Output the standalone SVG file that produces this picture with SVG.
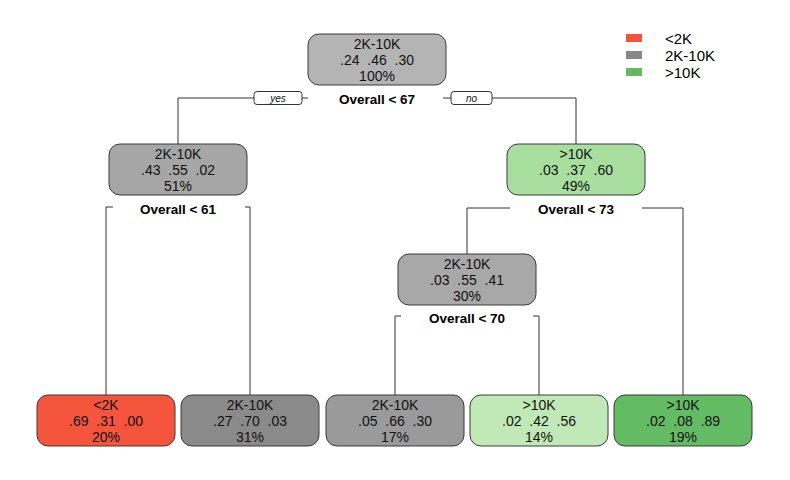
<svg xmlns="http://www.w3.org/2000/svg" width="790" height="480" viewBox="0 0 790 480">
<style>
  .box { stroke: #3a3a3a; stroke-width: 1; }
  .t { font-family: "Liberation Sans", Arial, sans-serif; font-size: 14px; fill: #111; text-anchor: middle; white-space: pre; }
  .split { font-family: "Liberation Sans", Arial, sans-serif; font-size: 13.5px; font-weight: bold; fill: #000; text-anchor: middle; }
  .lbl { font-family: "Liberation Sans", Arial, sans-serif; font-size: 10px; font-style: italic; fill: #111; text-anchor: middle; }
  .conn { fill: none; stroke: #333; stroke-width: 1; }
  .tag { fill: #fff; stroke: #333; stroke-width: 1; }
  .leg { font-family: "Liberation Sans", Arial, sans-serif; font-size: 15px; fill: #000; }
</style>
<rect width="790" height="480" fill="#ffffff"/>
<g id="connectors">
  <path class="conn" d="M254,98 H178 V144"/>
  <path class="conn" d="M302,98 H308"/>
  <path class="conn" d="M443,98 H451"/>
  <path class="conn" d="M492,98 H576 V144"/>
  <rect class="tag" x="254" y="91.5" width="48" height="13" rx="3"/>
  <text class="lbl" x="278" y="102">yes</text>
  <rect class="tag" x="451" y="91.5" width="41" height="13" rx="3"/>
  <text class="lbl" x="471.5" y="102">no</text>
  <path class="conn" d="M113,207 H106 V395"/>
  <path class="conn" d="M245,207 H250 V395"/>
  <path class="conn" d="M510,208 H467 V254"/>
  <path class="conn" d="M642,208 H683 V395"/>
  <path class="conn" d="M401,316 H395 V395"/>
  <path class="conn" d="M533,316 H539 V395"/>
</g>
<g id="node1">
  <rect class="box" x="308" y="34" width="138" height="51" rx="11" fill="#b4b4b4"/>
  <text class="t" x="377" y="49">2K-10K</text>
  <text class="t" x="377" y="65">.24  .46  .30</text>
  <text class="t" x="377" y="81">100%</text>
  <text class="split" x="377" y="104">Overall &lt; 67</text>
</g>
<g id="node2">
  <rect class="box" x="109" y="144" width="138" height="51" rx="11" fill="#a6a6a6"/>
  <text class="t" x="178" y="159">2K-10K</text>
  <text class="t" x="178" y="175">.43  .55  .02</text>
  <text class="t" x="178" y="191">51%</text>
  <text class="split" x="178" y="214">Overall &lt; 61</text>
</g>
<g id="node3">
  <rect class="box" x="507" y="144" width="138" height="51" rx="11" fill="#a8df9f"/>
  <text class="t" x="576" y="159">&gt;10K</text>
  <text class="t" x="576" y="175">.03  .37  .60</text>
  <text class="t" x="576" y="191">49%</text>
  <text class="split" x="576" y="214">Overall &lt; 73</text>
</g>
<g id="node4">
  <rect class="box" x="398" y="254" width="138" height="51" rx="11" fill="#a8a8a8"/>
  <text class="t" x="467" y="269">2K-10K</text>
  <text class="t" x="467" y="285">.03  .55  .41</text>
  <text class="t" x="467" y="301">30%</text>
  <text class="split" x="467" y="323">Overall &lt; 70</text>
</g>
<g id="leaf1">
  <rect class="box" x="37" y="395" width="138" height="51" rx="11" fill="#f5553d"/>
  <text class="t" x="106" y="410">&lt;2K</text>
  <text class="t" x="106" y="426">.69  .31  .00</text>
  <text class="t" x="106" y="442">20%</text>
</g>
<g id="leaf2">
  <rect class="box" x="181" y="395" width="138" height="51" rx="11" fill="#8a8a8a"/>
  <text class="t" x="250" y="410">2K-10K</text>
  <text class="t" x="250" y="426">.27  .70  .03</text>
  <text class="t" x="250" y="442">31%</text>
</g>
<g id="leaf3">
  <rect class="box" x="326" y="395" width="138" height="51" rx="11" fill="#9a9a9a"/>
  <text class="t" x="395" y="410">2K-10K</text>
  <text class="t" x="395" y="426">.05  .66  .30</text>
  <text class="t" x="395" y="442">17%</text>
</g>
<g id="leaf4">
  <rect class="box" x="470" y="395" width="138" height="51" rx="11" fill="#c1e8b7"/>
  <text class="t" x="539" y="410">&gt;10K</text>
  <text class="t" x="539" y="426">.02  .42  .56</text>
  <text class="t" x="539" y="442">14%</text>
</g>
<g id="leaf5">
  <rect class="box" x="614" y="395" width="138" height="51" rx="11" fill="#63bb63"/>
  <text class="t" x="683" y="410">&gt;10K</text>
  <text class="t" x="683" y="426">.02  .08  .89</text>
  <text class="t" x="683" y="442">19%</text>
</g>
<g id="legend">
  <rect x="626" y="34" width="16" height="8" fill="#f5543c"/>
  <rect x="626" y="51" width="16" height="8" fill="#888888"/>
  <rect x="626" y="68" width="16" height="8" fill="#62bb62"/>
  <text class="leg" x="665" y="44">&lt;2K</text>
  <text class="leg" x="665" y="61">2K-10K</text>
  <text class="leg" x="665" y="78">&gt;10K</text>
</g>
</svg>
